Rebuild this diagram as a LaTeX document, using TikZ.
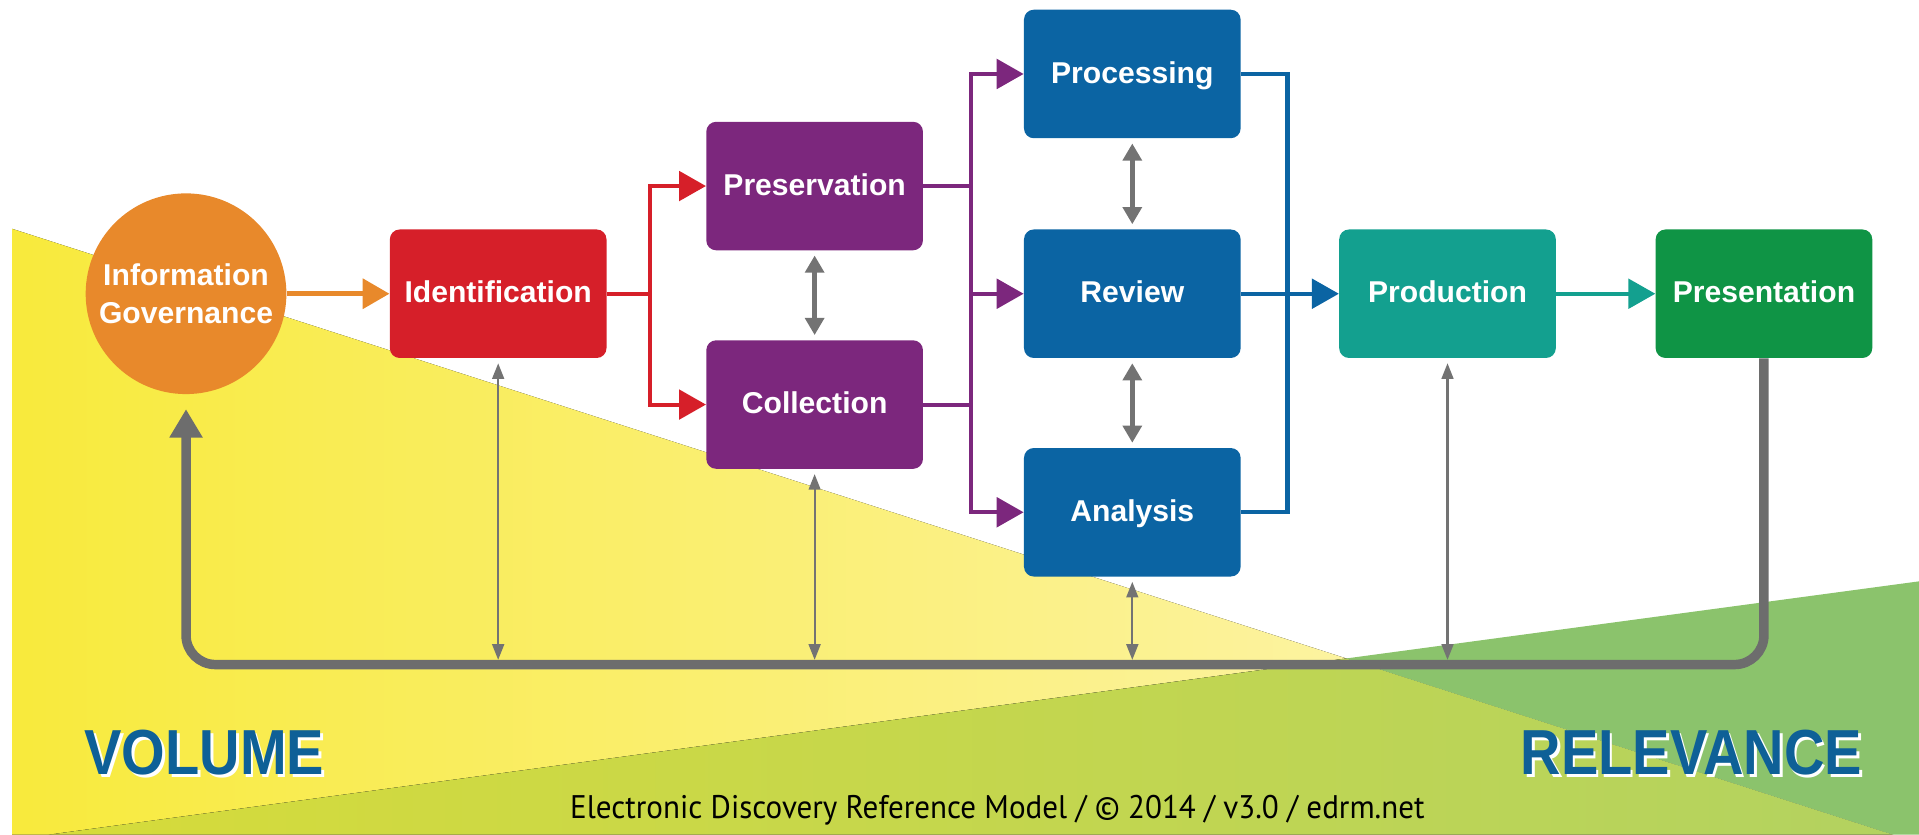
\documentclass[tikz,border=0pt]{standalone}
\usepackage{fontspec}
\setmainfont{Liberation Sans}
\newfontfamily\footfont[FakeStretch=0.95]{PT Sans}
\newfontfamily\bannerfont[FakeStretch=0.88]{Liberation Sans}
\usepackage{xcolor}
\usepackage{tikz}
\usetikzlibrary{positioning,calc,arrows.meta}

\definecolor{igorange}{HTML}{E8892B}
\definecolor{idred}{HTML}{D61F29}
\definecolor{ppurple}{HTML}{7C277D}
\definecolor{rblue}{HTML}{0B64A3}
\definecolor{prodteal}{HTML}{13A08F}
\definecolor{presgreen}{HTML}{0F9445}
\definecolor{linkgray}{HTML}{737373}
\definecolor{volblue}{HTML}{0E6097}
\definecolor{yelbright}{HTML}{F8EA3C}
\definecolor{yelpale}{HTML}{FCF3A0}
\definecolor{olivel}{HTML}{D6DB3A}
\definecolor{oliver}{HTML}{B3D260}
\definecolor{grnbg}{HTML}{8BC36C}

\begin{document}
\begin{tikzpicture}[
        block/.style={rectangle, rounded corners=0.2cm, minimum width=4.425cm, minimum height=2.625cm,
            inner sep=0pt, align=center, text=white, text height=1.05em, text depth=0pt,
            font=\bfseries\fontsize{17.5}{22}\selectfont},
        flow/.style={line width=2.4pt, -{Triangle[length=0.55cm, width=0.6cm]}},
        joint/.style={line width=2.4pt},
        link/.style={draw=linkgray, line width=3pt, {Triangle[length=0.35cm, width=0.38cm]}-{Triangle[length=0.35cm, width=0.38cm]}, shorten <=0.1cm, shorten >=0.1cm},
        thinlink/.style={draw=linkgray, line width=1.3pt, {Triangle[length=0.32cm, width=0.24cm]}-{Triangle[length=0.32cm, width=0.24cm]}},
        loopline/.style={draw=linkgray!95!black, line width=5.5pt, rounded corners=0.6cm},
        banner/.style={text=volblue, font=\bannerfont\bfseries\fontsize{37}{42}\selectfont}
    ]
        \useasboundingbox (0,0) rectangle (39.2,-17.05);

        % Background wedges
        \fill[left color=yelbright, right color=yelpale] (0.25,-4.675) -- (27.5,-13.45) -- (1.0,-17.05) -- (0.25,-17.05) -- cycle;
        \fill[left color=olivel, right color=oliver] (27.5,-13.45) -- (38.675,-17.05) -- (1.0,-17.05) -- cycle;
        \fill[grnbg] (27.5,-13.45) -- (39.2,-11.875) -- (39.2,-17.05) -- (38.675,-17.05) -- cycle;

        % EDRM Blocks
        \node [circle, fill=igorange, minimum size=4.1cm, inner sep=0pt, align=center, text=white,
            font=\bfseries\fontsize{17.5}{22}\selectfont] (ig) at (3.8,-6.0) {Information\\Governance};
        \node [block, fill=idred, right=2.1cm of ig] (ident) {Identification};
        \node [block, fill=ppurple, right=2.025cm of ident, yshift=2.2cm] (pres) {Preservation};
        \node [block, fill=ppurple, below=1.825cm of pres] (coll) {Collection};
        \node [block, fill=rblue, right=2.05cm of pres, yshift=-2.2cm] (review) {Review};
        \node [block, fill=rblue, above=1.85cm of review] (proc) {Processing};
        \node [block, fill=rblue, below=1.825cm of review] (ana) {Analysis};
        \node [block, fill=prodteal, right=2cm of review] (prod) {Production};
        \node [block, fill=presgreen, right=2.025cm of prod] (present) {Presentation};

        % Connections
        \draw [flow, igorange, line width=3.2pt] (ig.east) -- (ident.west);
        \draw [joint, idred] (ident.east) -- ++(0.875,0) coordinate (rj);
        \draw [flow, idred] (rj) |- (pres.west);
        \draw [flow, idred] (rj) |- (coll.west);
        \draw [joint, ppurple] (pres.east) -- ++(0.975,0) coordinate (pj);
        \draw [joint, ppurple] (coll.east) -| (pj);
        \draw [flow, ppurple] (pj) |- (proc.west);
        \draw [flow, ppurple] (pj) |- (review.west);
        \draw [flow, ppurple] (pj) |- (ana.west);
        \draw [joint, rblue] (proc.east) -- ++(0.95,0) coordinate (bj) |- (ana.east);
        \draw [flow, rblue] (review.east) -- (prod.west);
        \draw [flow, prodteal] (prod.east) -- (present.west);

        % Feedback links
        \draw [link] (pres.south) -- (coll.north);
        \draw [link] (proc.south) -- (review.north);
        \draw [link] (review.south) -- (ana.north);

        \coordinate (bar) at (0,-13.575);
        \coordinate (bartop) at (0,-13.48);
        \draw [loopline, -{Triangle[length=0.58cm, width=0.64cm]}, shorten >=0.3cm] (present.south) |- (ig.south |- bar) -- (ig.south);
        \draw [thinlink, shorten <=0.1cm] (ident.south) -- (ident.south |- bartop);
        \draw [thinlink, shorten <=0.1cm] (coll.south) -- (coll.south |- bartop);
        \draw [thinlink, shorten <=0.1cm] (ana.south) -- (ana.south |- bartop);
        \draw [thinlink, shorten <=0.1cm] (prod.south) -- (prod.south |- bartop);

        % Labels
        \node [banner, text=white] (volsh) at (4.23,-15.43) {VOLUME};
        \node [banner] (vol) at (4.175,-15.375) {VOLUME};
        \node [banner, text=white] (relsh) at (34.6,-15.43) {RELEVANCE};
        \node [banner] (rel) at (34.55,-15.375) {RELEVANCE};
        \node [font=\footfont\fontsize{19}{22}\selectfont] (foot) at (20.375,-16.55)
            {Electronic Discovery Reference Model / © 2014 / v3.0 / edrm.net};
\end{tikzpicture}
\end{document}
